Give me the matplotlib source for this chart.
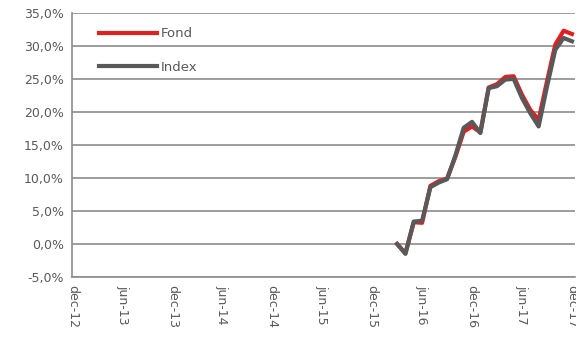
import matplotlib.pyplot as plt
from matplotlib.ticker import FuncFormatter

# Month number counted from dec-12, one point per month end
months = list(range(39, 61))
fond = [0.0, -1.4, 3.3, 3.2, 8.8, 9.5, 9.9, 13.2, 17.0, 17.8, 16.9,
        23.7, 24.2, 25.3, 25.4, 22.6, 20.3, 18.8, 24.6, 30.2, 32.3, 31.8]
index = [0.0, -1.5, 3.4, 3.5, 8.6, 9.3, 9.8, 13.4, 17.6, 18.5, 16.8,
         23.6, 23.9, 24.9, 25.0, 22.1, 19.8, 17.8, 23.8, 29.4, 31.2, 30.7]

tick_months = list(range(0, 61, 6))
tick_labels = ['dec-12', 'jun-13', 'dec-13', 'jun-14', 'dec-14', 'jun-15',
               'dec-15', 'jun-16', 'dec-16', 'jun-17', 'dec-17']

grey = '#595959'
grid = '#8c8c8c'

fig = plt.figure(figsize=(5.76, 3.39), dpi=100)
ax = fig.add_axes([0.125, 0.183, 0.873, 0.779])

ax.plot(months, fond, color='#e02020', linewidth=3, label='Fond', zorder=3)
ax.plot(months, index, color=grey, linewidth=3, label='Index', zorder=4)

ax.set_ylim(-5, 35)
ax.set_yticks(range(-5, 36, 5))
ax.yaxis.set_major_formatter(FuncFormatter(lambda v, p: f'{v:.1f}%'.replace('.', ',')))
ax.set_xlim(-0.05, 60.35)
ax.set_xticks(tick_months)
ax.set_xticklabels(tick_labels, rotation=-90)

ax.grid(axis='y', color=grid, linewidth=1.2)
ax.set_axisbelow(True)
for side in ['top', 'right']:
    ax.spines[side].set_visible(False)
for side in ['left', 'bottom']:
    ax.spines[side].set_color(grid)
    ax.spines[side].set_linewidth(1.2)
ax.tick_params(length=0, labelsize=9, labelcolor=grey, pad=6)

ax.legend(loc='upper left', bbox_to_anchor=(0.03, 0.99), frameon=False,
          fontsize=9.5, labelcolor=grey, handlelength=4.4, handletextpad=0.3,
          labelspacing=1.55)

fig.savefig('out.png')
